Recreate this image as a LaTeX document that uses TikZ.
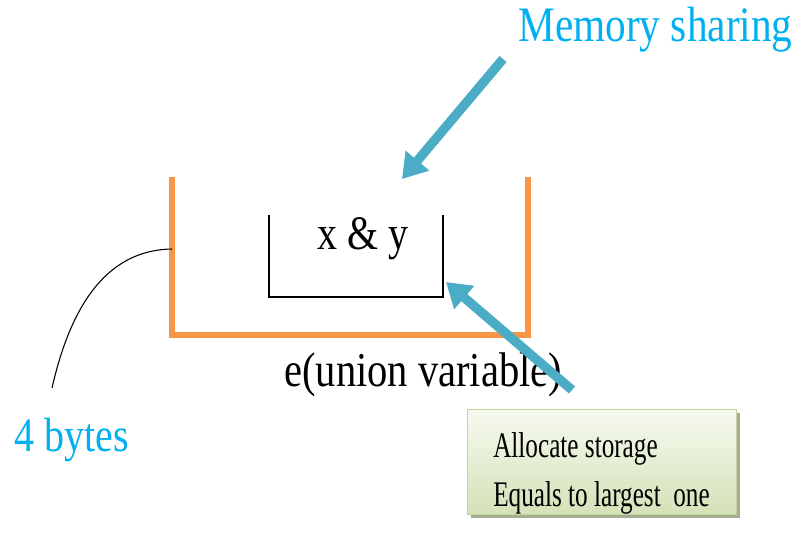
\documentclass[tikz,border=0pt]{standalone}
\usepackage{fontspec}
\setmainfont{Liberation Serif}
\usetikzlibrary{arrows.meta,shadows}

\definecolor{unionorange}{HTML}{F79646}
\definecolor{calloutteal}{HTML}{4BACC6}
\definecolor{labelblue}{HTML}{00B0F0}
\definecolor{notetop}{HTML}{F7FAF0}
\definecolor{notebottom}{HTML}{D4E2B8}
\definecolor{noteedge}{HTML}{C3D69B}

\newcommand{\tallfont}[2][30]{\scalebox{1}[1.2]{\fontsize{#1}{36}\selectfont #2}}
\newcommand{\notefont}[1]{\scalebox{0.7}[1]{\fontsize{27}{32}\selectfont #1}}

\tikzset{
  unionwall/.style={draw=unionorange, line width=4.6pt, line join=miter},
  slotwall/.style={draw=black, line width=0.9pt},
  bigarrow/.style={draw=calloutteal, line width=7pt,
    -{Triangle[length=18pt,width=22pt]}},
  leader/.style={draw=black, line width=0.8pt},
  txt/.style={inner sep=0pt, anchor=base west},
  notebox/.style={draw=noteedge, line width=0.8pt,
    top color=notetop, bottom color=notebottom,
    minimum width=202pt, minimum height=79pt, inner sep=0pt,
    general shadow={shadow xshift=2.5pt, shadow yshift=-2.5pt,
      fill=black!35!noteedge, opacity=0.7}},
}

\begin{document}
\begin{tikzpicture}[x=0.75pt, y=-0.75pt]
  \path[use as bounding box] (0,0) rectangle (800,548);

  % outer union container (open at the top)
  \coordinate (utl) at (172,177);
  \coordinate (ubr) at (528,335);
  \coordinate (utr) at (528,177);
  \draw[unionwall] (utl) |- (ubr) -- (utr);

  % shared slot holding both members
  \coordinate (stl) at (269,215);
  \coordinate (sbr) at (443,297);
  \coordinate (str) at (443,215);
  \draw[slotwall] (stl) |- (sbr) -- (str);
  \node[txt] (members) at (317,250) {\tallfont{x \& y}};

  % labels
  \node[txt, text=labelblue] (memlabel) at (518,42) {\tallfont[31]{Memory sharing}};
  \node[txt] (unionname) at (284,387) {\tallfont[30.4]{e(union variable)}};
  \node[txt, text=labelblue] (sizelabel) at (14,452) {\tallfont{4 bytes}};

  % size leader from the container wall
  \coordinate (wallpt) at (172,249);
  \coordinate (sizeend) at (52,388);
  \draw[leader] (wallpt) .. controls (110,250) and (72,300) .. (sizeend);

  % note box
  \node[notebox] (note) at (602,462) {};
  \node[txt] (noteA) at (493,458) {\notefont{Allocate storage}};
  \node[txt] (noteB) at (493,507) {\notefont{Equals to largest\ \ one}};

  % callout arrows
  \coordinate (sharetail) at (503,59);
  \coordinate (sharetip) at (402,179);
  \draw[bigarrow] (sharetail) -- (sharetip);
  \coordinate (notetail) at (572,390);
  \coordinate (slottip) at (446,282);
  \draw[bigarrow] (notetail) -- (slottip);
\end{tikzpicture}
\end{document}
